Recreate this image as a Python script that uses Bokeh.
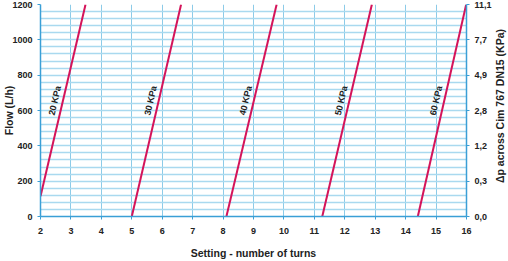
import numpy as np
from bokeh.plotting import figure
from bokeh.layouts import row
from bokeh.models import Range1d, LinearAxis, FixedTicker, ColumnDataSource
from bokeh.core.properties import value
from bokeh.embed import file_html
from bokeh.resources import INLINE

# ---- data ----
series_labels = ["20 KPa", "30 KPa", "40 KPa", "50 KPa", "60 KPa"]
turns_start = [2.0, 5.0, 8.11, 11.26, 14.40]
turns_end = [3.48, 6.62, 9.76, 12.89, 15.99]
flow_start = [115, 0, 0, 0, 0]
flow_end = [1200, 1200, 1200, 1200, 1200]

x_ticks = list(range(2, 17))
flow_ticks = [0, 200, 400, 600, 800, 1000, 1200]
dp_labels = ["0,0", "0,3", "1,2", "2,8", "4,9", "7,7", "11,1"]
flow_minor = list(range(0, 1201, 40))
label_flow = 650
right_title = "Δp across Cim 767 DN15 (KPa)"

FONT = "Liberation Sans"
LINE_COLOR = "#d4145a"
AXIS_COLOR = "#3a9fd6"
GRID_H = "#a9d9ef"
GRID_V = "#8ccbe8"

p = figure(width=494, height=261, output_backend="svg", toolbar_location=None,
           x_range=Range1d(2, 16), y_range=Range1d(0, 1200),
           min_border_left=40, min_border_right=28, min_border_top=4,
           min_border_bottom=45)
p.outline_line_color = None
p.background_fill_color = "white"

p.xaxis.ticker = FixedTicker(ticks=x_ticks)
p.yaxis.ticker = FixedTicker(ticks=flow_ticks)
p.xgrid.ticker = FixedTicker(ticks=x_ticks)
p.ygrid.ticker = FixedTicker(ticks=flow_minor)
p.xgrid.grid_line_color = GRID_V
p.xgrid.grid_line_width = 1
p.ygrid.grid_line_color = GRID_H
p.ygrid.grid_line_width = 1.6

left = p.yaxis[0]
bottom = p.xaxis[0]
bottom.axis_label = "Setting - number of turns"
left.axis_label = "Flow (L/h)"

right = LinearAxis(ticker=FixedTicker(ticks=flow_ticks),
                   major_label_overrides={t: l for t, l in zip(flow_ticks, dp_labels)})
p.add_layout(right, "right")

for ax in [bottom, left, right]:
    ax.axis_line_color = AXIS_COLOR
    ax.axis_line_width = 1.5
    ax.major_tick_line_color = AXIS_COLOR
    ax.major_tick_in = 0
    ax.major_tick_out = 3
    ax.minor_tick_line_color = None
    ax.major_label_text_font = FONT
    ax.major_label_text_font_style = "bold"
    ax.major_label_text_font_size = "9px"
    ax.major_label_text_color = "#222222"
    ax.axis_label_text_font = FONT
    ax.axis_label_text_font_style = "bold"
    ax.axis_label_text_font_size = "10.5px"
    ax.axis_label_text_color = "#222222"
    ax.major_label_standoff = 5
    ax.axis_label_standoff = -6

bottom.major_label_standoff = 8
bottom.axis_label_standoff = 10

# lines
for i in range(len(series_labels)):
    p.line([turns_start[i], turns_end[i]], [flow_start[i], flow_end[i]],
           line_color=LINE_COLOR, line_width=2)

# labels along lines
lx = [np.interp(label_flow, [flow_start[i], flow_end[i]], [turns_start[i], turns_end[i]])
      for i in range(len(series_labels))]
src = ColumnDataSource(dict(x=lx, y=[label_flow] * len(lx), t=series_labels))
p.text(x="x", y="y", text="t", source=src, angle=np.deg2rad(77),
       text_align="center", text_baseline="bottom", x_offset=-3,
       text_font=value(FONT), text_font_style="bold", text_font_size="9px",
       text_color="#222222")

# right-hand title panel (reads bottom to top, like the reference)
p2 = figure(width=14, height=261, output_backend="svg", toolbar_location=None,
            x_range=Range1d(0, 14), y_range=Range1d(0, 261), min_border=0)
p2.axis.visible = False
p2.grid.visible = False
p2.outline_line_color = None
p2.text(x=[5], y=[136], text=[right_title], angle=np.pi / 2,
        text_align="center", text_baseline="middle",
        text_font=value(FONT), text_font_style="bold", text_font_size="10.5px",
        text_color="#222222")

layout = row(p, p2, spacing=0)
open("out.html", "w").write(file_html(layout, INLINE))
